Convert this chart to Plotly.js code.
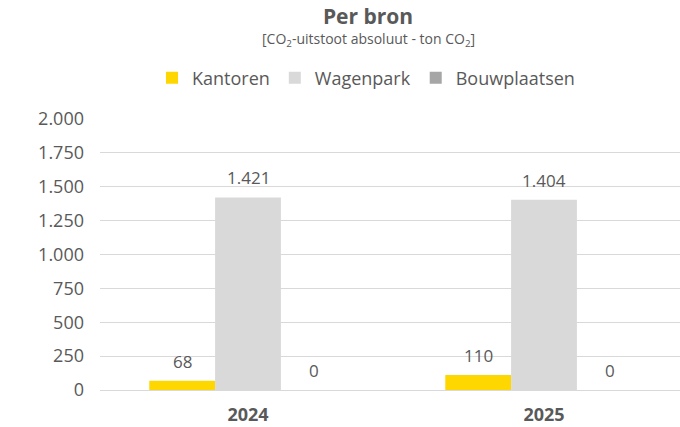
<!DOCTYPE html>
<html>
<head>
<meta charset="utf-8">
<script src="https://cdn.plot.ly/plotly-3.0.1.min.js"></script>
<style>
  html, body { margin: 0; padding: 0; background: #fff; }
  #chart { width: 680px; height: 427px; }
</style>
</head>
<body>
<div id="chart"></div>
<script>
// Chart data
const years = ['2024', '2025'];
const seriesNames = ['Kantoren', 'Wagenpark', 'Bouwplaatsen'];
const kantoren = [68, 110];
const wagenpark = [1421, 1404];
const bouwplaatsen = [0, 0];
const yTicks = [0, 250, 500, 750, 1000, 1250, 1500, 1750, 2000];

const seriesValues = [kantoren, wagenpark, bouwplaatsen];
const seriesColors = ['#FFD700', '#D9D9D9', '#A6A6A6'];
const textColor = '#595959';
const fontFamily = 'Open Sans, Noto Sans, sans-serif';
const barGap = 0.333;

// Build bar traces
const data = seriesNames.map(function(name, i) {
  return {
    x: years,
    y: seriesValues[i],
    type: 'bar',
    name: name,
    marker: { color: seriesColors[i] },
    hoverinfo: 'skip'
  };
});

// Formats a number with a dot as thousands separator
function formatNumber(v) {
  return v.toString().replace(/\B(?=(\d{3})+(?!\d))/g, '.');
}

// Value labels above each bar
const annotations = [];
seriesValues.forEach(function(values, j) {
  values.forEach(function(v, i) {
    annotations.push({
      x: i + (j - 1) * (1 - barGap) / 3,
      y: v,
      xref: 'x',
      yref: 'y',
      text: formatNumber(v),
      showarrow: false,
      yanchor: 'bottom',
      yshift: 6,
      font: { size: 17, color: textColor, family: fontFamily }
    });
  });
});

// Subtitle under the main title
annotations.push({
  x: (368 - 100) / 580,
  y: 1 + (119 - 40) / 271,
  xref: 'paper',
  yref: 'paper',
  xanchor: 'center',
  yanchor: 'middle',
  text: '[CO<sub>2</sub>-uitstoot absoluut - ton CO<sub>2</sub>]',
  showarrow: false,
  font: { size: 14, color: textColor, family: fontFamily }
});

const layout = {
  width: 680,
  height: 427,
  margin: { l: 100, r: 0, t: 119, b: 37 },
  paper_bgcolor: '#ffffff',
  plot_bgcolor: '#ffffff',
  separators: ',.',
  font: { family: fontFamily, color: textColor, size: 16 },
  title: {
    text: '<b>Per bron</b>',
    x: 368 / 680,
    xanchor: 'center',
    y: 1 - 17 / 427,
    yanchor: 'middle',
    font: { size: 21, color: textColor, family: fontFamily }
  },
  barmode: 'group',
  bargap: barGap,
  bargroupgap: 0,
  showlegend: true,
  legend: {
    orientation: 'h',
    x: (366 - 100) / 580,
    xanchor: 'center',
    y: 1 + 41 / 271,
    yanchor: 'middle',
    font: { size: 18, color: textColor, family: fontFamily },
    itemclick: false
  },
  xaxis: {
    type: 'category',
    range: [-0.5, -0.5 + 580 / 296],
    showgrid: false,
    showline: false,
    zeroline: false,
    ticks: '',
    ticklabelstandoff: 12,
    tickfont: { size: 18, color: textColor, family: fontFamily, weight: 'bold' }
  },
  yaxis: {
    range: [0, 2000],
    tickvals: yTicks,
    ticktext: yTicks.map(formatNumber),
    showgrid: true,
    gridcolor: '#D9D9D9',
    gridwidth: 1,
    zeroline: true,
    zerolinecolor: '#D9D9D9',
    showline: false,
    ticks: '',
    ticklabelstandoff: 15,
    tickfont: { size: 18, color: textColor, family: fontFamily }
  },
  annotations: annotations
};

Plotly.newPlot('chart', data, layout, { displayModeBar: false, staticPlot: true });
</script>
</body>
</html>
